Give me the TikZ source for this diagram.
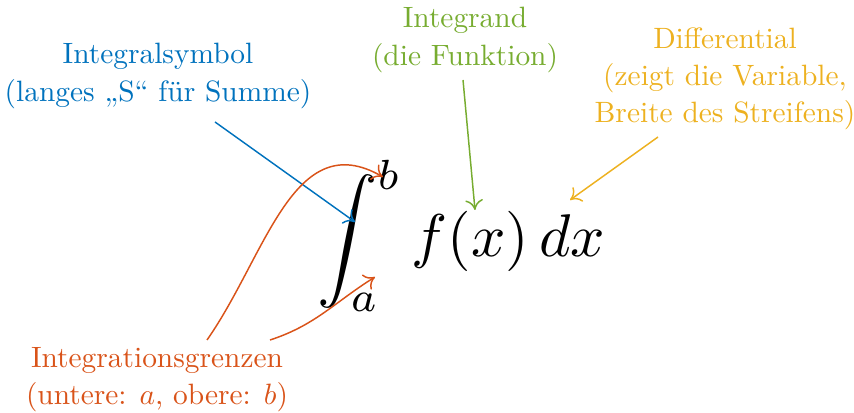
\documentclass[tikz,border=0pt]{standalone}
\usepackage{fontspec}
\usepackage{tikz}
\usetikzlibrary{positioning, arrows.meta}
\definecolor{SymbolBlue}{RGB}{0, 114, 189}
\definecolor{LimitOrange}{RGB}{217, 83, 25}
\definecolor{DiffYellow}{RGB}{237, 177, 32}
\definecolor{FuncGreen}{RGB}{119, 172, 48}

\begin{document}
\begin{tikzpicture}[
    x=0.34pt, y=-0.34pt,
    label/.style={align=center, font=\fontsize{10}{12.6}\selectfont, inner sep=0pt},
    arrow/.style={-{To[length=3.5pt, width=6pt]}, line width=0.5pt}
  ]
    \useasboundingbox (0,0) rectangle (854,413);

    % the formula
    \node[anchor=base west, inner sep=0pt, scale=2.05] (formula) at (316,257)
      {$\displaystyle\int_a^b f(x)\,dx$};

    % labels
    \node[label, text=SymbolBlue] (symbol) at (158,76) {Integralsymbol\\(langes „S“ für Summe)};
    \node[label, text=FuncGreen] (integrand) at (465,40) {Integrand\\(die Funktion)};
    \node[label, text=DiffYellow] (differential) at (725,79) {Differential\\(zeigt die Variable,\\Breite des Streifens)};
    \node[label, text=LimitOrange] (limits) at (157,380) {Integrationsgrenzen\\(untere: $a$, obere: $b$)};

    % arrow ends
    \coordinate (symbolS) at (215,122);
    \coordinate (symbolE) at (355,222);
    \coordinate (integrandS) at (463,80);
    \coordinate (integrandE) at (475,210);
    \coordinate (diffS) at (658,137);
    \coordinate (diffE) at (570,200);
    \coordinate (upperS) at (207,340);
    \coordinate (upperE) at (383,177);
    \coordinate (lowerS) at (270,340);
    \coordinate (lowerE) at (375,277);

    \draw[arrow, SymbolBlue] (symbolS) -- (symbolE);
    \draw[arrow, FuncGreen] (integrandS) -- (integrandE);
    \draw[arrow, DiffYellow] (diffS) -- (diffE);
    \draw[arrow, LimitOrange] (upperS) to[out=55, in=150, looseness=1.1] (upperE);
    \draw[arrow, LimitOrange] (lowerS) to[out=18, in=212] (lowerE);
  \end{tikzpicture}
\end{document}
